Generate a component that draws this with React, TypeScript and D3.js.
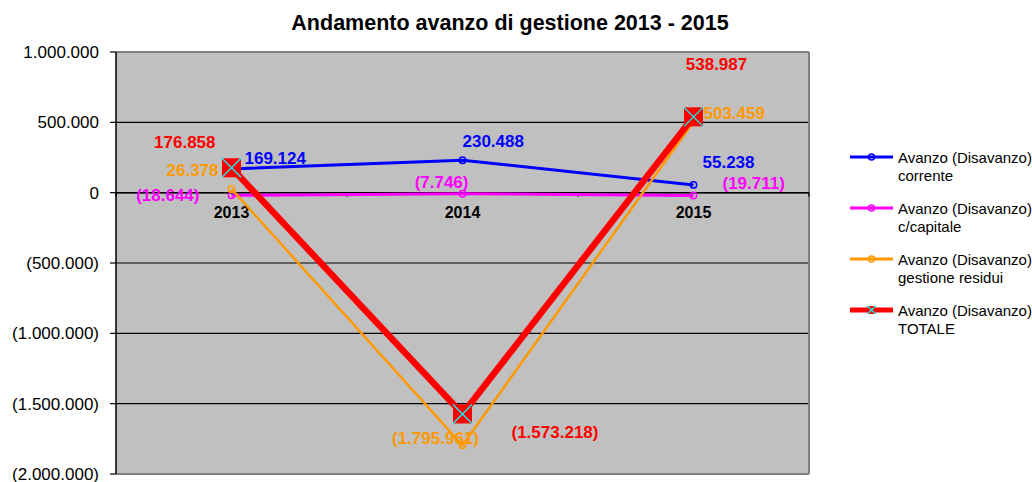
import React from "react";
import * as d3 from "d3";

const categories = ["2013", "2014", "2015"];
const corrente = [169124, 230488, 55238];
const capitale = [-18644, -7746, -19711];
const residui = [26378, -1795961, 503459];
const totale = [176858, -1573218, 538987];
const yTicks = [1000000, 500000, 0, -500000, -1000000, -1500000, -2000000];
const seriesNames = [
  ["Avanzo (Disavanzo)", "corrente"],
  ["Avanzo (Disavanzo)", "c/capitale"],
  ["Avanzo (Disavanzo)", "gestione residui"],
  ["Avanzo (Disavanzo)", "TOTALE"],
];
const title = "Andamento avanzo di gestione 2013 - 2015";

const W = 1032;
const H = 482;
const FONT = "'Liberation Sans', Arial, Helvetica, sans-serif";

const itLocale = d3.formatLocale({
  decimal: ",",
  thousands: ".",
  grouping: [3],
  currency: ["€", ""],
});
const fmtAbs = itLocale.format(",.0f");
const fmt = (v: number) => (v < 0 ? `(${fmtAbs(-v)})` : fmtAbs(v));

type LabelPos = { dx: number; dy: number; anchor: "start" | "middle" | "end" };

export default function App() {
  const left = 116;
  const right = 809;
  const top = 52;
  const bottom = 474;

  const x = d3.scaleBand<string>().domain(categories).range([left, right]);
  const y = d3.scaleLinear().domain([-2000000, 1000000]).range([bottom, top]);
  const cx = (c: string) => (x(c) as number) + x.bandwidth() / 2;

  const series = [
    { values: corrente, color: "#0000FF", width: 3, marker: "circle", label: "#0000FF" },
    { values: capitale, color: "#FF00FF", width: 3, marker: "circle", label: "#FF00FF" },
    { values: residui, color: "#FF9900", width: 2.5, marker: "circle", label: "#FF9900" },
    { values: totale, color: "#FF0000", width: 6.5, marker: "square", label: "#FF0000" },
  ];

  const labelPos: LabelPos[][] = [
    [
      { dx: 13, dy: -11, anchor: "start" },
      { dx: 0, dy: -19.5, anchor: "start" },
      { dx: 9, dy: -23, anchor: "start" },
    ],
    [
      { dx: -32, dy: 0, anchor: "end" },
      { dx: 6, dy: -12, anchor: "end" },
      { dx: 29, dy: -12, anchor: "start" },
    ],
    [
      { dx: -13, dy: -19, anchor: "end" },
      { dx: -27, dy: -7, anchor: "middle" },
      { dx: 10, dy: -9, anchor: "start" },
    ],
    [
      { dx: -16, dy: -26, anchor: "end" },
      { dx: 49, dy: 18, anchor: "start" },
      { dx: 23, dy: -53, anchor: "middle" },
    ],
  ];

  const line = d3
    .line<number>()
    .x((_, i) => cx(categories[i]))
    .y((d) => y(d));

  const boundaries = [left, ...categories.map((c) => (x(c) as number) + x.bandwidth())];

  const legendX1 = 850;
  const legendX2 = 893;
  const legendYs = [157, 208, 259, 310];

  const renderMarker = (kind: string, color: string, px: number, py: number, small: boolean, key: string) => {
    if (kind === "circle") {
      return (
        <circle key={key} cx={px} cy={py} r={small ? 3 : 3.2} fill="none" stroke={color} strokeWidth={1.5} />
      );
    }
    const s = small ? 4 : 9.5;
    return (
      <g key={key}>
        <rect x={px - s} y={py - s} width={2 * s} height={2 * s} fill="#FF0000" />
        <line x1={px - s} y1={py - s} x2={px + s} y2={py + s} stroke="#00FFFF" strokeWidth={1.3} />
        <line x1={px - s} y1={py + s} x2={px + s} y2={py - s} stroke="#00FFFF" strokeWidth={1.3} />
      </g>
    );
  };

  return (
    <svg
      width={W}
      height={H}
      style={{ position: "fixed", left: 0, top: 0, background: "#FFFFFF" }}
      fontFamily={FONT}
    >
      <rect x={0} y={0} width={W} height={H} fill="#FFFFFF" />
      {/* title */}
      <text x={510} y={30} textAnchor="middle" fontSize={21.5} fontWeight="bold" fill="#000">
        {title}
      </text>

      {/* plot area */}
      <rect x={left} y={top} width={right - left} height={bottom - top} fill="#C0C0C0" />
      {/* gridlines */}
      {yTicks.map((t) => (
        <line key={"g" + t} x1={left} x2={right} y1={y(t)} y2={y(t)} stroke="#000" strokeWidth={1.2} />
      ))}
      {/* plot border top/right/bottom */}
      <line x1={left} x2={right} y1={top} y2={top} stroke="#808080" strokeWidth={2} />
      <line x1={right} x2={right} y1={top} y2={bottom} stroke="#808080" strokeWidth={2} />
      <line x1={left} x2={right} y1={bottom} y2={bottom} stroke="#808080" strokeWidth={2} />

      {/* y axis */}
      <line x1={left} x2={left} y1={top} y2={bottom} stroke="#000" strokeWidth={1.5} />
      {yTicks.map((t) => (
        <g key={"t" + t}>
          <line x1={left - 6} x2={left} y1={y(t)} y2={y(t)} stroke="#000" strokeWidth={1.2} />
          <text x={99} y={y(t)} dy="0.35em" textAnchor="end" fontSize={17} fill="#000">
            {fmt(t)}
          </text>
        </g>
      ))}

      {/* category axis at zero */}
      <line x1={left} x2={right} y1={y(0)} y2={y(0)} stroke="#000" strokeWidth={1.5} />
      {boundaries.map((b, i) => (
        <line key={"b" + i} x1={b} x2={b} y1={y(0)} y2={y(0) + 4} stroke="#000" strokeWidth={1.2} />
      ))}
      {categories.map((c) => (
        <text key={"c" + c} x={cx(c)} y={y(0) + 20} dy="0.35em" textAnchor="middle" fontSize={16} fontWeight="bold" fill="#000">
          {c}
        </text>
      ))}

      {/* series */}
      {series.map((s, si) => (
        <g key={"s" + si}>
          <path d={line(s.values) as string} fill="none" stroke={s.color} strokeWidth={s.width} strokeLinejoin="round" />
          {s.values.map((v, i) => renderMarker(s.marker, s.color, cx(categories[i]), y(v), false, `m${si}-${i}`))}
        </g>
      ))}

      {/* data labels */}
      {series.map((s, si) =>
        s.values.map((v, i) => {
          const p = labelPos[si][i];
          return (
            <text
              key={`l${si}-${i}`}
              x={cx(categories[i]) + p.dx}
              y={y(v) + p.dy}
              dy="0.35em"
              textAnchor={p.anchor}
              fontSize={17}
              fontWeight="bold"
              fill={s.label}
            >
              {fmt(v)}
            </text>
          );
        })
      )}

      {/* legend */}
      {series.map((s, si) => (
        <g key={"lg" + si}>
          <line
            x1={legendX1}
            x2={legendX2}
            y1={legendYs[si]}
            y2={legendYs[si]}
            stroke={s.color}
            strokeWidth={si === 3 ? 5 : 3}
          />
          {renderMarker(s.marker, s.color, (legendX1 + legendX2) / 2, legendYs[si], true, "lm" + si)}
          <text x={898} y={legendYs[si] + 1} dy="0.35em" fontSize={15} fill="#000">
            {seriesNames[si][0]}
          </text>
          <text x={898} y={legendYs[si] + 19} dy="0.35em" fontSize={15} fill="#000">
            {seriesNames[si][1]}
          </text>
        </g>
      ))}
    </svg>
  );
}
